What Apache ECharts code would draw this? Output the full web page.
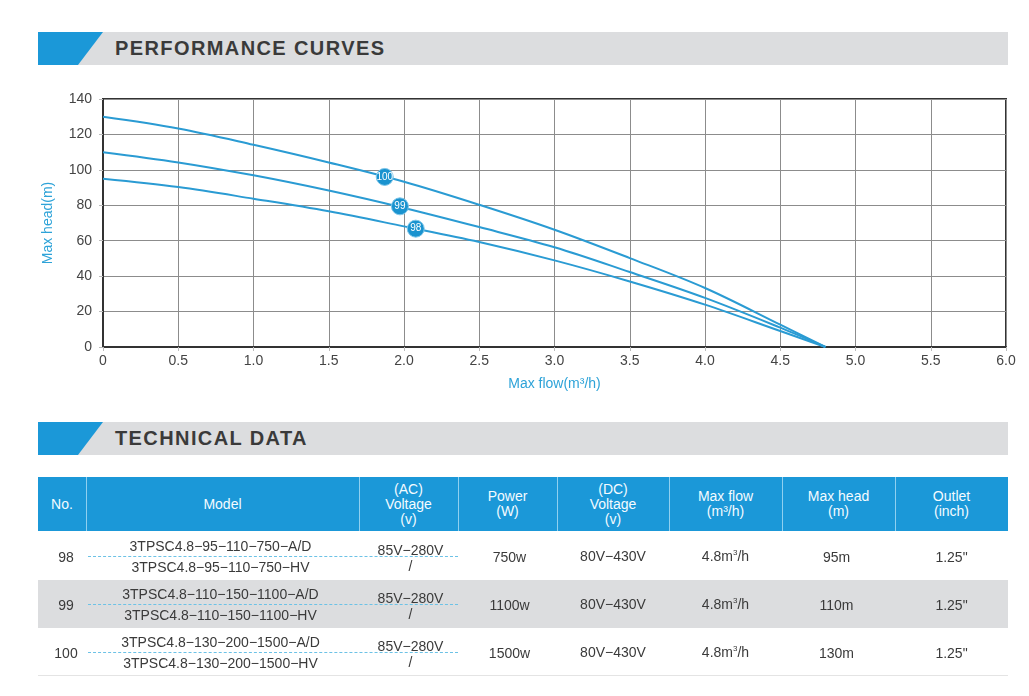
<!DOCTYPE html>
<html><head><meta charset="utf-8">
<script src="https://cdn.jsdelivr.net/npm/echarts@6/dist/echarts.min.js"></script>
<style>
body{margin:0;background:#fff;font-family:'Liberation Sans',Arial,sans-serif;width:1029px;height:696px;overflow:hidden;position:relative;}
#chart{position:absolute;left:0;top:0;width:1029px;height:696px;}
.abs{position:absolute;}
.band{position:absolute;left:38px;width:970px;height:33px;background:#dcdddf;}
.band .blue{position:absolute;left:0;top:0;width:65px;height:33px;background:#1b98d8;clip-path:polygon(0 0,65px 0,40px 100%,0 100%);}
.band .t{position:absolute;left:77px;top:0;line-height:33px;font-weight:bold;font-size:20px;letter-spacing:1.4px;color:#3a3a3a;}
.cell{position:absolute;text-align:center;white-space:nowrap;}
.hd{color:#f4fbff;font-size:14px;line-height:14px;}
.bd{color:#3a3a3a;font-size:14px;}
</style></head>
<body>
<div id="chart"></div>
<div id="overlay"></div>
<script>
// ---- chart data ----
const flow    = [0, 0.5, 1.0, 1.5, 2.0, 2.5, 3.0, 3.5, 4.0, 4.5, 4.8];
const head100 = [130, 123.4, 114.2, 104.2, 93.3, 80.3, 66.2, 50.2, 33.3, 12.6, 0];
const head99  = [110, 104.2, 96.9, 88.3, 78.5, 67.7, 56.3, 42.3, 27.7, 10.9, 0];
const head98  = [95, 90.3, 83.7, 76.6, 68.1, 59.3, 48.9, 37.0, 23.9, 9.0, 0];
const curveNames = ['100', '99', '98'];
const labelFlow = [1.872, 1.973, 2.078];
const labelHead = [96, 79.4, 66.8];
const xTicks = [0, 0.5, 1.0, 1.5, 2.0, 2.5, 3.0, 3.5, 4.0, 4.5, 5.0, 5.5, 6.0];
const yTicks = [0, 20, 40, 60, 80, 100, 120, 140];

// ---- table data ----
const colHeaders = ['No.', 'Model', '(AC)\nVoltage\n(v)', 'Power\n(W)', '(DC)\nVoltage\n(v)', 'Max flow\n(m³/h)', 'Max head\n(m)', 'Outlet\n(inch)'];
const nos = ['98', '99', '100'];
const modelsAD = ['3TPSC4.8−95−110−750−A/D', '3TPSC4.8−110−150−1100−A/D', '3TPSC4.8−130−200−1500−A/D'];
const modelsHV = ['3TPSC4.8−95−110−750−HV', '3TPSC4.8−110−150−1100−HV', '3TPSC4.8−130−200−1500−HV'];
const acVoltage = ['85V−280V', '85V−280V', '85V−280V'];
const acVoltageHV = ['/', '/', '/'];
const power = ['750w', '1100w', '1500w'];
const dcVoltage = ['80V−430V', '80V−430V', '80V−430V'];
const maxFlow = ['4.8m³/h', '4.8m³/h', '4.8m³/h'];
const maxHead = ['95m', '110m', '130m'];
const outlet = ['1.25"', '1.25"', '1.25"'];

const lineColor = '#2a9bd3';
const heads = [head100, head99, head98];
const series = heads.map((h, i) => ({
  type: 'line', name: curveNames[i], smooth: 0.35, showSymbol: false, silent: true,
  data: flow.map((f, j) => [f, h[j]]),
  lineStyle: { color: lineColor, width: 2 }, z: 3
}));
series.push({
  type: 'scatter', symbolSize: 17, z: 5, silent: true,
  data: curveNames.map((n, i) => [labelFlow[i], labelHead[i], n]),
  itemStyle: { color: '#1a93cf', borderColor: '#7fc7ea', borderWidth: 1, opacity: 1 },
  label: { show: true, position: 'inside', formatter: p => p.value[2], color: '#fff', fontSize: 10, fontFamily: 'Liberation Sans Narrow, Liberation Sans, sans-serif' }
});

const chart = echarts.init(document.getElementById('chart'), null, { renderer: 'canvas' });
chart.setOption({
  animation: false,
  backgroundColor: '#fff',
  grid: { left: 103, top: 99, right: 23, bottom: 349, show: true, borderColor: '#333', borderWidth: 2, backgroundColor: 'transparent' },
  xAxis: {
    type: 'value', min: 0, max: 6, interval: 0.5,
    axisLine: { show: true, lineStyle: { color: '#333', width: 2 } },
    axisTick: { show: true, length: 4, lineStyle: { color: '#bbb' } },
    splitLine: { show: true, lineStyle: { color: '#8c8c8c', width: 1 } },
    axisLabel: { color: '#444', fontSize: 14, margin: 7, fontFamily: 'Liberation Sans',
      formatter: v => { const t = xTicks.find(x => Math.abs(x - v) < 1e-9); return t === 0 ? '0' : (t !== undefined ? t.toFixed(1) : ''); } },
    name: 'Max flow(m³/h)', nameLocation: 'middle', nameGap: 30,
    nameTextStyle: { color: '#2ea3d8', fontSize: 14, fontFamily: 'Liberation Sans' }
  },
  yAxis: {
    type: 'value', min: 0, max: 140, interval: 20,
    axisLine: { show: true, lineStyle: { color: '#333', width: 2 } },
    axisTick: { show: true, length: 4, lineStyle: { color: '#bbb' } },
    splitLine: { show: true, lineStyle: { color: '#8c8c8c', width: 1 } },
    axisLabel: { color: '#444', fontSize: 14, margin: 11, fontFamily: 'Liberation Sans',
      formatter: v => yTicks.includes(v) ? String(v) : '' },
    name: 'Max head(m)', nameLocation: 'middle', nameGap: 48, nameRotate: 90,
    nameTextStyle: { color: '#2ea3d8', fontSize: 14, fontFamily: 'Liberation Sans' }
  },
  series: series
});

// ---- overlay: headers and table ----
const ov = document.getElementById('overlay');
function el(html, style, cls) {
  const d = document.createElement('div');
  d.className = cls || 'abs';
  d.innerHTML = html;
  Object.assign(d.style, style);
  ov.appendChild(d);
  return d;
}
function band(top, title) {
  el('<div class="blue"></div><div class="t">' + title + '</div>', { top: top + 'px' }, 'band');
}
band(32, 'PERFORMANCE CURVES');
band(422, 'TECHNICAL DATA');

const cols = [38, 86, 359, 458, 557, 669, 782, 895, 1008];
const hTop = 477, hBot = 531;
el('', { left: cols[0] + 'px', top: hTop + 'px', width: (cols[8] - cols[0]) + 'px', height: (hBot - hTop) + 'px', background: '#1b98d8' });
for (let i = 1; i < cols.length - 1; i++) {
  el('', { left: cols[i] + 'px', top: hTop + 'px', width: '1px', height: (hBot - hTop) + 'px', background: '#8fd0f0' });
}
colHeaders.forEach((h, i) => {
  const lines = h.split('\n');
  el(lines.join('<br>'), {
    left: cols[i] + 'px', width: (cols[i + 1] - cols[i]) + 'px',
    top: (hTop + (hBot - hTop) / 2 - lines.length * 7.5) + 'px', lineHeight: '15px'
  }, 'cell hd');
});

const rowTops = [531, 580, 628];
const rowH = [49, 48, 47];
const mid = (i, c) => (cols[c] + cols[c + 1]) / 2;
function txt(s, cx, cy, extra) {
  el(s, Object.assign({ left: (cx - 150) + 'px', width: '300px', top: (cy - 9) + 'px', lineHeight: '18px' }, extra || {}), 'cell bd');
}
nos.forEach((n, r) => {
  const top = rowTops[r], h = rowH[r], cy = top + h / 2;
  if (r === 1) el('', { left: cols[0] + 'px', top: top + 'px', width: (cols[8] - cols[0]) + 'px', height: h + 'px', background: '#dcdddf' });
  el('', { left: '88px', top: Math.round(cy) + 'px', width: '370px', height: '0', borderTop: '1px dashed #6cc2e6' });
  txt(n, mid(r, 0) + 4, cy + 1);
  txt(modelsAD[r], mid(r, 1) - 2, cy - 10);
  txt(modelsHV[r], mid(r, 1) - 2, cy + 11);
  txt(acVoltage[r], mid(r, 2) + 2, cy - 6);
  txt(acVoltageHV[r], mid(r, 2) + 2, cy + 10);
  txt(power[r], mid(r, 3) + 2, cy + 1);
  txt(dcVoltage[r], mid(r, 4), cy);
  txt(maxFlow[r].replace('³', '<sup style="font-size:8px;vertical-align:6px">3</sup>'), mid(r, 5), cy - 3);
  txt(maxHead[r], mid(r, 6) - 2, cy + 1);
  txt(outlet[r], mid(r, 7), cy + 1);
});
el('', { left: cols[0] + 'px', top: '675px', width: (cols[8] - cols[0]) + 'px', height: '1px', background: '#e4e4e4' });
</script>
</body></html>
